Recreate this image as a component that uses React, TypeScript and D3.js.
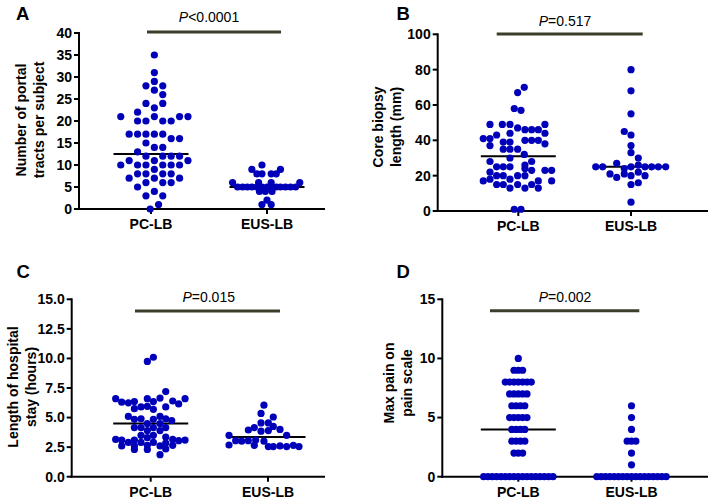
import React from 'react';
import * as d3 from 'd3';

type Pt = [number, number]; // [value, horizontal slot offset in dot units]

const groups = ['PC-LB', 'EUS-LB'];

// A: number of portal tracts per subject
const portalTicks = [0, 5, 10, 15, 20, 25, 30, 35, 40];
const portalPC: Pt[] = [
  [35, 0.4], [31, 0.4], [29, 0.4], [28, -0.6], [28, 1.4], [27, 0.4], [26, 1.4], [24, -0.6], [24, 1.4], [23, 0.4], [22, -1.6],
  [21, -3.6], [21, 0.4], [21, 3.4], [21, 4.4], [20, -1.6], [20, -0.6], [20, 1.4], [20, 2.4],
  [17, -2.6], [17, -1.6], [17, -0.6], [17, 0.4], [17, 1.4], [16, 2.4], [16, 3.4], [15, -0.6], [14, 0.4], [14, 1.4], [13, -1.6],
  [12, -0.6], [12, 1.4], [12, 2.4], [12, 3.4], [11, -2.6], [11, 0.4], [11, 4.4],
  [10, -3.6], [10, -1.6], [10, -0.6], [10, 1.4], [10, 2.4], [10, 3.4], [9, 0.4],
  [8, -1.6], [8, -0.6], [8, 1.4], [8, 2.4], [7, -2.6], [7, 0.4], [7, 3.4], [6, -0.6], [6, 1.4], [6, 2.4],
  [5, -1.6], [4, 0.4], [3, -0.6], [3, 1.4], [1, 0.9], [0, -0.1],
];
const portalEUS: Pt[] = [
  [10, -0.6], [9, -1.8], [9, 1.6], [8, -1.2], [8, -0.6], [8, 0.5], [8, 1.1],
  [6, -4.1], [6, -1.0], [6, 0.5], [6, 3.9],
  [5, -3.5], [5, -2.9], [5, -2.35], [5, -1.8], [5, -1.2], [5, -0.6], [5, 0], [5, 0.5], [5, 1.1], [5, 1.6], [5, 2.2], [5, 2.8], [5, 3.4],
  [4, -0.9], [4, -0.2], [4, 0.6], [2, 0], [1, -0.6], [1, 0.5],
];
const portalMedians = [12.5, 5];

// B: core biopsy length (mm)
const coreTicks = [0, 20, 40, 60, 80, 100];
const corePC: Pt[] = [
  [70, 0.71], [67, -0.08], [58, -0.48], [57, 0.32],
  [49, -3.37], [49, -1.9], [49, -0.99], [49, 3.17], [47, -0.08],
  [46, 0.79], [46, 1.59], [46, 2.38], [44, -0.99], [44, 3.17], [43, -2.58],
  [41, -4.17], [41, -3.37], [40, 0.79], [40, 1.59], [40, 2.38], [39, -1.79], [39, -0.99], [38, 3.17], [37, -3.37],
  [35, -1.79], [35, -0.99], [35, -0.08], [32, 0.71], [30, -0.99], [28, -3.37], [28, 1.59], [26, 0.79],
  [25, -2.58], [25, -1.79], [25, -0.99], [24, 0.79], [23, 1.59], [23, 3.17], [23, 3.97], [22, -3.37],
  [20, -2.58], [20, -1.79], [20, -0.08], [20, 0.79], [18, -0.99], [17, -4.17], [18, -3.37], [17, 2.38], [17, 3.97],
  [15, -2.58], [15, -1.79], [15, -0.08], [15, 1.59], [13, -0.99], [13, 0.79], [13, 2.38], [1, -0.48], [1, 0.32],
];
const coreEUS: Pt[] = [
  [80, 0], [68, 0], [55, 0], [45, -0.8], [43, 0], [37, 0], [33, 0], [30, 0.87], [27, -1.7], [26, 0.87],
  [25, -4.2], [25, -3.37], [25, 0], [25, 1.67], [25, 2.46], [25, 3.25], [25, 4.13],
  [24, -0.8], [22, 0.87], [21, -2.5], [21, -0.8], [20, 0], [20, 1.67], [19, -1.7], [16, 0.87], [15, 0], [5, 0],
];
const coreMedians = [31, 25];

// C: length of hospital stay (hours)
const stayTicks = [0, 2.5, 5, 7.5, 10, 12.5, 15];
const stayPC: Pt[] = [
  [10.1, 0.32], [9.75, -0.4], [7.2, 1.79],
  [6.6, -4.17], [6.6, -0.4], [6.65, 1.11], [6.6, 4.09],
  [6.3, -3.45], [6.25, -2.66], [6.35, -1.94], [6.35, 0.32], [6.4, 2.62], [6.15, 3.33],
  [5.9, -1.15], [5.95, -0.4], [5.9, 1.79], [5.75, -1.94], [5.7, 0.32],
  [5.1, -2.66], [5.1, 1.11],
  [4.85, -1.94], [4.9, -1.15], [4.85, 0.32], [4.9, 1.79], [4.75, 2.5],
  [4.5, -0.4], [4.5, 1.11],
  [4.15, -1.94], [4.15, -1.15], [4.15, 0.32], [4.15, 1.79],
  [3.9, -0.4], [3.9, 1.11],
  [3.5, -1.15], [3.5, 0.32],
  [3.3, -0.4], [3.35, 1.79],
  [3.15, -4.17], [3.1, -3.45], [3.1, -1.94], [3.15, 2.62], [3.05, 3.33], [3.1, 4.09],
  [2.9, -2.66], [2.9, -1.15], [2.9, 0.32], [2.85, 1.79],
  [2.6, -3.45], [2.6, -1.94], [2.65, -0.4], [2.6, 1.11], [2.65, 2.62],
  [2.3, -1.94], [2.3, -0.4], [2.35, 1.79],
  [1.86, 1.11],
];
const stayEUS: Pt[] = [
  [6.05, -0.48], [5.35, -0.83], [5.05, 0.63],
  [4.55, -0.83], [4.55, 0.04], [4.25, 0.63], [4.15, -1.63], [3.95, -2.34], [4.0, 1.43],
  [3.85, -0.83], [3.9, 0.04], [3.5, 2.22], [3.5, -4.64],
  [3.05, -3.85], [3.0, -3.13], [3.05, -2.34], [3.1, -1.47], [3.0, -0.48],
  [2.68, -4.64], [2.65, -1.63], [2.55, 0.04], [2.55, 0.63], [2.6, 1.43], [2.55, 2.22], [2.65, 3.02], [2.55, 3.69],
];
const stayMedians = [4.5, 3.35];

// D: max pain on pain scale (values only; equal values are laid out in a row)
const painTicks = [0, 5, 10, 15];
const painPCValues = [
  10, 9, 9, 9, 8, 8, 8, 8, 8, 8, 8, 7, 7, 7, 7, 7, 6, 6, 6, 6, 5, 5, 5, 5, 5,
  4, 4, 4, 4, 3, 3, 3, 3, 2, 2, 2,
  0, 0, 0, 0, 0, 0, 0, 0, 0, 0, 0, 0, 0, 0, 0, 0, 0,
];
const painEUSValues = [6, 5, 4, 3, 3, 3, 2, 1, 0, 0, 0, 0, 0, 0, 0, 0, 0, 0, 0, 0, 0, 0, 0, 0, 0];
const painMedians: (number | null)[] = [4, null];

function rowLayout(values: number[], step: number): Pt[] {
  const counts = d3.rollup(values, (v) => v.length, (d) => d);
  const seen = new Map<number, number>();
  return values.map((v) => {
    const n = counts.get(v) as number;
    const i = seen.get(v) ?? 0;
    seen.set(v, i + 1);
    return [v, (i - (n - 1) / 2) * step] as Pt;
  });
}

const FONT = "'Liberation Sans', Arial, Helvetica, sans-serif";
const DOT = '#0000b8';
const BAR = '#3d3d2b';

interface PanelCfg {
  letter: string;
  letterX: number;
  letterY: number;
  axisX: number;
  yTop: number;
  yBottom: number;
  xRight: number;
  cats: [number, number];
  domain: [number, number];
  ticks: number[];
  fmt: (n: number) => string;
  title: [string, string];
  titleX: [number, number];
  titleY: number;
  sig: { x1: number; x2: number; y: number };
  pText: string;
  pX: number;
  pY: number;
  series: Pt[][];
  medians: (number | null)[];
}

const intFmt = d3.format('d');
const decFmt = d3.format('.1f');

const panels: PanelCfg[] = [
  {
    letter: 'A', letterX: 16, letterY: 19.5, axisX: 79, yTop: 33, yBottom: 209, xRight: 325,
    cats: [151, 267], domain: [0, 40], ticks: portalTicks, fmt: intFmt,
    title: ['Number of portal', 'tracts per subject'], titleX: [26, 44], titleY: 120,
    sig: { x1: 147, x2: 281, y: 32 }, pText: '<0.0001', pX: 209, pY: 22,
    series: [portalPC, portalEUS], medians: portalMedians,
  },
  {
    letter: 'B', letterX: 396.5, letterY: 19.5, axisX: 437.7, yTop: 34.3, yBottom: 211, xRight: 708,
    cats: [518.3, 631], domain: [0, 100], ticks: coreTicks, fmt: intFmt,
    title: ['Core biopsy', 'length (mm)'], titleX: [382.5, 400.5], titleY: 127,
    sig: { x1: 496.7, x2: 642.7, y: 34 }, pText: '=0.517', pX: 565, pY: 26,
    series: [corePC, coreEUS], medians: coreMedians,
  },
  {
    letter: 'C', letterX: 16.5, letterY: 278.3, axisX: 71.7, yTop: 299.3, yBottom: 476.7, xRight: 325,
    cats: [150.7, 268], domain: [0, 15], ticks: stayTicks, fmt: decFmt,
    title: ['Length of hospital', 'stay (hours)'], titleX: [18, 36], titleY: 387,
    sig: { x1: 135, x2: 280, y: 311 }, pText: '=0.015', pX: 208.7, pY: 302,
    series: [stayPC, stayEUS], medians: stayMedians,
  },
  {
    letter: 'D', letterX: 396.5, letterY: 278.3, axisX: 442.3, yTop: 299.3, yBottom: 476.7, xRight: 708,
    cats: [518.3, 631.5], domain: [0, 15], ticks: painTicks, fmt: intFmt,
    title: ['Max pain on', 'pain scale'], titleX: [394, 412], titleY: 383,
    sig: { x1: 490, x2: 639.3, y: 310.7 }, pText: '=0.002', pX: 565, pY: 302,
    series: [rowLayout(painPCValues, 0.516), rowLayout(painEUSValues, 0.516)], medians: painMedians,
  },
];

function Panel({ cfg }: { cfg: PanelCfg }) {
  const y = d3.scaleLinear().domain(cfg.domain).range([cfg.yBottom, cfg.yTop]);
  const x = d3.scalePoint<string>().domain(groups).range(cfg.cats);
  const slot = d3.scaleLinear().domain([0, 1]).range([0, 8.4]);
  const medHalf = 37.5;
  return (
    <g>
      <text x={cfg.letterX} y={cfg.letterY} fontFamily={FONT} fontWeight="bold" fontSize={18.5} fill="#000">
        {cfg.letter}
      </text>
      {/* significance annotation */}
      <line x1={cfg.sig.x1} x2={cfg.sig.x2} y1={cfg.sig.y} y2={cfg.sig.y} stroke={BAR} strokeWidth={3} />
      <text x={cfg.pX} y={cfg.pY} textAnchor="middle" fontFamily={FONT} fontSize={14} fill="#000">
        <tspan fontStyle="italic">P</tspan>
        {cfg.pText}
      </text>
      {/* y axis title */}
      {cfg.title.map((t, i) => (
        <text
          key={i}
          transform={`translate(${cfg.titleX[i]},${cfg.titleY}) rotate(-90)`}
          textAnchor="middle"
          fontFamily={FONT}
          fontWeight="bold"
          fontSize={14}
          fill="#000"
        >
          {t}
        </text>
      ))}
      {/* y axis */}
      <line x1={cfg.axisX} x2={cfg.axisX} y1={y(cfg.domain[1]) - 1} y2={cfg.yBottom + 1} stroke="#000" strokeWidth={2} />
      {cfg.ticks.map((t) => (
        <g key={t}>
          <line x1={cfg.axisX - 5} x2={cfg.axisX} y1={y(t)} y2={y(t)} stroke="#000" strokeWidth={2} />
          <text x={cfg.axisX - 7} y={y(t)} dy="0.35em" textAnchor="end" fontFamily={FONT} fontWeight="bold" fontSize={14} fill="#000">
            {cfg.fmt(t)}
          </text>
        </g>
      ))}
      {/* x axis */}
      <line x1={cfg.axisX - 1} x2={cfg.xRight} y1={cfg.yBottom} y2={cfg.yBottom} stroke="#000" strokeWidth={2} />
      {groups.map((g) => (
        <g key={g}>
          <line x1={x(g)} x2={x(g)} y1={cfg.yBottom} y2={cfg.yBottom + 5} stroke="#000" strokeWidth={2} />
          <text x={x(g)} y={cfg.yBottom + 20} textAnchor="middle" fontFamily={FONT} fontWeight="bold" fontSize={14} fill="#000">
            {g}
          </text>
        </g>
      ))}
      {/* medians */}
      {groups.map((g, gi) =>
        cfg.medians[gi] == null ? null : (
          <line
            key={'m' + g}
            x1={(x(g) as number) - medHalf}
            x2={(x(g) as number) + medHalf}
            y1={y(cfg.medians[gi] as number)}
            y2={y(cfg.medians[gi] as number)}
            stroke="#000"
            strokeWidth={2}
          />
        )
      )}
      {/* dots */}
      {groups.map((g, gi) =>
        cfg.series[gi].map((p, i) => (
          <circle key={g + i} cx={(x(g) as number) + slot(p[1])} cy={y(p[0])} r={3.6} fill={DOT} />
        ))
      )}
    </g>
  );
}

export default function App() {
  return (
    <svg
      width={709}
      height={501}
      viewBox="0 0 709 501"
      style={{ position: 'absolute', left: 0, top: 0, background: '#fff' }}
    >
      <rect width={709} height={501} fill="#fff" />
      {panels.map((p) => (
        <Panel key={p.letter} cfg={p} />
      ))}
    </svg>
  );
}
